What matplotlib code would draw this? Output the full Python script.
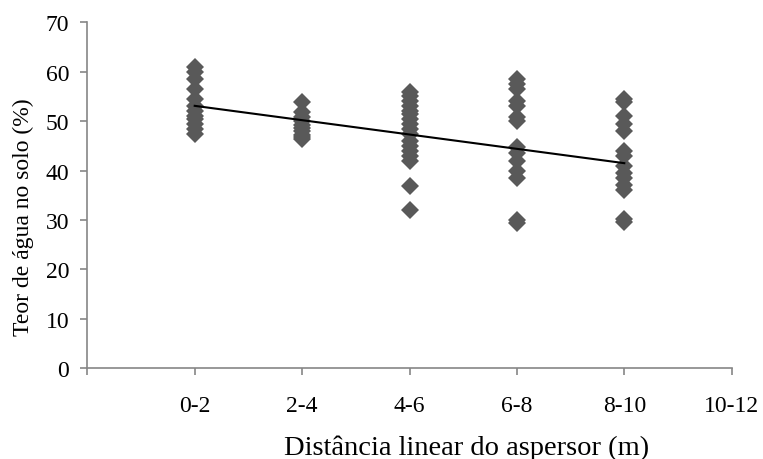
import matplotlib
matplotlib.use("Agg")
import matplotlib.pyplot as plt
import numpy as np

categories = ["0-2", "2-4", "4-6", "6-8", "8-10", "10-12"]

vals_0_2 = [61.0, 60.0, 58.5, 56.5, 54.5, 53.0, 52.0, 51.0, 50.5, 49.5, 48.5, 47.5]
vals_2_4 = [53.8, 51.8, 50.8, 50.0, 49.3, 48.7, 48.0, 47.3, 46.8, 46.3]
vals_4_6 = [56.0, 55.0, 54.0, 53.0, 52.0, 51.5, 50.5, 49.5, 48.5, 47.5, 46.0, 45.0,
            44.0, 43.0, 42.0, 36.8, 32.0]
vals_6_8 = [58.5, 57.5, 56.5, 54.0, 53.0, 50.8, 50.0, 44.8, 43.5, 42.0, 40.0, 38.5,
            30.0, 29.3]
vals_8_10 = [54.5, 53.8, 51.0, 49.5, 48.0, 44.0, 43.0, 41.0, 39.5, 38.5, 37.0, 36.0,
             30.2, 29.5]
series = [vals_0_2, vals_2_4, vals_4_6, vals_6_8, vals_8_10]

# trend line (value at first and last category)
trend_x = [1, 5]
trend_y = [53.1, 41.5]

yticks = [0, 10, 20, 30, 40, 50, 60, 70]

plt.rcParams['font.family'] = ['Liberation Serif', 'DejaVu Serif']

fig = plt.figure(figsize=(7.63, 4.60), dpi=100)
ax = fig.add_axes([87.3/763, 1-369.3/460, (731.7-87.3)/763, (369.3-23.3)/460])

marker_color = '#595959'
for i, vals in enumerate(series):
    xs = np.full(len(vals), i + 1)
    ax.plot(xs, vals, linestyle='none', marker='D', markersize=9.2,
            color=marker_color, markeredgewidth=0, zorder=3)

ax.plot(trend_x, trend_y, color='black', linewidth=1.5, zorder=4)

ax.set_xlim(0, 6)
ax.set_ylim(0, 70)
ax.set_yticks(yticks)
ax.set_yticklabels([str(t) for t in yticks])
ax.set_xticks(range(0, 7))
ax.set_xticklabels([''] + categories)

axis_color = '#868686'
for s in ['top', 'right']:
    ax.spines[s].set_visible(False)
for s in ['left', 'bottom']:
    ax.spines[s].set_color(axis_color)
    ax.spines[s].set_linewidth(1.2)

ax.tick_params(axis='y', direction='out', length=5, width=1.2, color=axis_color,
               labelsize=17, pad=8, labelcolor='black')
ax.tick_params(axis='x', direction='out', length=5, width=1.2, color=axis_color,
               labelsize=17, pad=14, labelcolor='black')

fig.text(467/763, 1-455/460, 'Distância linear do aspersor (m)', ha='center',
         va='baseline', fontsize=20.5)
fig.text(23/763, 1-217/460, 'Teor de água no solo (%)', ha='center', va='center',
         rotation=90, fontsize=17)

fig.savefig('out.png', dpi=100)
